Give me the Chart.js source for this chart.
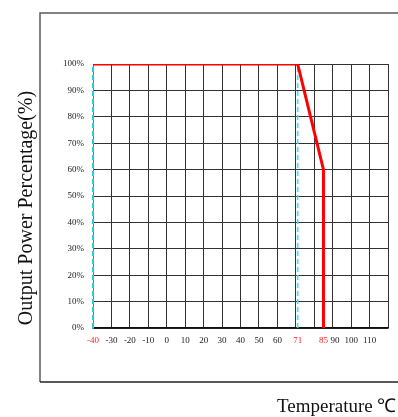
<!DOCTYPE html>
<html>
<head>
<meta charset="utf-8">
<script src="https://cdn.jsdelivr.net/npm/chart.js@4/dist/chart.umd.min.js"></script>
<style>
  html, body { margin: 0; padding: 0; background: #fff; }
  #wrap { width: 398px; height: 417px; }
</style>
</head>
<body>
<div id="wrap"><canvas id="derating"></canvas></div>
<script>
// Derating curve: output power (%) against ambient temperature (°C)
const temperatures = [-40, 71, 85, 85];
const powerPercent = [100, 100, 60, 0];

// Dashed markers: start of the operating range and start of derating
const markerTemps = [-40, 71];
const markerSpan = [0, 100];

// Temperature axis
const tempMin = -40;
const tempMax = 120;
const tempStep = 10;
const tempLabels = [-40, -30, -20, -10, 0, 10, 20, 30, 40, 50, 60, 71, 85, 90, 100, 110];
const redLabels = [-40, 71, 85];

// Power axis
const powerTicks = [0, 10, 20, 30, 40, 50, 60, 70, 80, 90, 100];

const SERIF = "'Liberation Serif', 'Times New Roman', serif";

const curve = temperatures.map((t, i) => ({ x: t, y: powerPercent[i] }));
const markerSets = markerTemps.map((t, i) => ({
  data: markerSpan.map(p => ({ x: t, y: p })),
  borderColor: i === 0 ? '#22d0d0' : '#19f0f0',
  borderWidth: i === 0 ? 2 : 1.6,
  borderDash: [5, 3],
  pointRadius: 0,
  clip: false,
  order: 2
}));

const frameAndTitles = {
  id: 'frameAndTitles',
  beforeDraw(chart) {
    const { ctx, chartArea: a, width } = chart;
    ctx.save();
    // outer frame around the plot
    ctx.strokeStyle = '#5a5a5a';
    ctx.lineWidth = 1.5;
    ctx.beginPath();
    ctx.moveTo(width + 2, a.top - 51);
    ctx.lineTo(a.left - 53, a.top - 51);
    ctx.lineTo(a.left - 53, a.bottom + 54);
    ctx.stroke();
    ctx.strokeStyle = '#222';
    ctx.beginPath();
    ctx.moveTo(a.left - 53, a.bottom + 54);
    ctx.lineTo(width + 2, a.bottom + 54);
    ctx.stroke();
    ctx.restore();
  },
  afterDraw(chart) {
    const { ctx, chartArea: a } = chart;
    ctx.save();
    ctx.fillStyle = '#111';
    // vertical axis title
    ctx.font = '20px ' + SERIF;
    ctx.textAlign = 'center';
    ctx.textBaseline = 'alphabetic';
    ctx.translate(a.left - 61, (a.top + a.bottom) / 2 + 12);
    ctx.rotate(-Math.PI / 2);
    ctx.fillText('Output Power Percentage(%)', 0, 0);
    ctx.restore();

    // horizontal axis title, running off the right edge
    ctx.save();
    ctx.fillStyle = '#111';
    ctx.font = '19px ' + SERIF;
    ctx.textAlign = 'left';
    ctx.textBaseline = 'alphabetic';
    ctx.fillText('Temperature \u2103', a.right - 111, a.bottom + 84);
    ctx.restore();
  }
};

new Chart(document.getElementById('derating'), {
  type: 'line',
  data: {
    datasets: [
      {
        data: curve,
        borderColor: '#ff0000',
        borderWidth: 3,
        pointRadius: 0,
        tension: 0,
        order: 1
      },
      ...markerSets
    ]
  },
  options: {
    responsive: true,
    maintainAspectRatio: false,
    animation: false,
    layout: { padding: { top: 64, right: 10, left: 0, bottom: 0 } },
    plugins: { legend: { display: false }, tooltip: { enabled: false } },
    scales: {
      x: {
        type: 'linear',
        min: tempMin,
        max: tempMax,
        afterBuildTicks(scale) {
          const vals = [];
          for (let v = tempMin; v <= tempMax; v += tempStep) vals.push(v);
          tempLabels.forEach(v => { if (!vals.includes(v)) vals.push(v); });
          vals.sort((p, q) => p - q);
          scale.ticks = vals.map(v => ({ value: v }));
        },
        afterFit(scale) { scale.height = 89; },
        grid: {
          drawTicks: false,
          color: c => (c.tick && tempLabels.includes(c.tick.value) && c.tick.value % tempStep !== 0) ? 'rgba(0,0,0,0)' : '#333',
          lineWidth: 1
        },
        border: { color: '#111', width: 1.5 },
        ticks: {
          autoSkip: false,
          maxRotation: 0,
          padding: 7,
          font: { family: SERIF, size: 9 },
          color: c => redLabels.includes(c.tick.value) ? '#ff2020' : '#222',
          // the label right after 85 sits a little to the right so the two do not touch
          callback: v => tempLabels.includes(v) ? (v === 90 ? '\u2002' + v : String(v)) : ''
        }
      },
      y: {
        type: 'linear',
        min: 0,
        max: 100,
        afterBuildTicks(scale) { scale.ticks = powerTicks.map(v => ({ value: v })); },
        afterFit(scale) { scale.width = 93; },
        grid: { drawTicks: false, color: '#333', lineWidth: 1 },
        border: { color: '#777', width: 1 },
        ticks: {
          padding: 9,
          font: { family: SERIF, size: 9 },
          color: '#222',
          callback: v => v + '%'
        }
      }
    }
  },
  plugins: [frameAndTitles]
});
</script>
</body>
</html>
